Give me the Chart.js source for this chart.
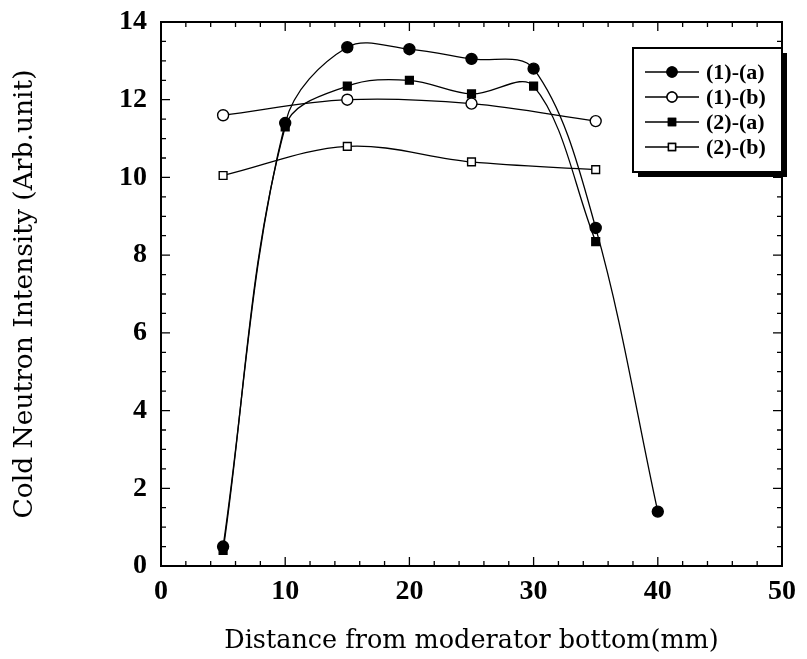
<!DOCTYPE html>
<html>
<head>
<meta charset="utf-8">
<script src="https://cdn.jsdelivr.net/npm/chart.js@4"></script>
<style>
  html, body { margin: 0; padding: 0; background: #fff; }
  #wrap { width: 807px; height: 659px; }
</style>
</head>
<body>
<div id="wrap"><canvas id="chart" width="807" height="659"></canvas></div>
<script>
// data
const distA = [5, 10, 15, 20, 25, 30, 35, 40];
const val1a = [0.5, 11.4, 13.35, 13.3, 13.05, 12.8, 8.7, 1.4];
const distB = [5, 15, 25, 35];
const val1b = [11.6, 12.0, 11.9, 11.45];
const dist2a = [5, 10, 15, 20, 25, 30, 35];
const val2a = [0.4, 11.3, 12.35, 12.5, 12.15, 12.35, 8.35];
const val2b = [10.05, 10.8, 10.4, 10.2];
const seriesNames = ['(1)-(a)', '(1)-(b)', '(2)-(a)', '(2)-(b)'];
const xMajor = [0, 10, 20, 30, 40, 50];
const yMajor = [0, 2, 4, 6, 8, 10, 12, 14];

const SERIF = '"DejaVu Serif", serif';
const TIMES = '"Liberation Serif", serif';
const pts = (xs, ys) => xs.map((x, i) => ({ x, y: ys[i] }));

function ds(label, data, style, filled) {
  return {
    label, data,
    borderColor: '#000', borderWidth: 1.3,
    pointStyle: style,
    pointRadius: 5.5,
    pointBackgroundColor: filled ? '#000' : '#fff',
    pointBorderColor: '#000', pointBorderWidth: 1.4,
    tension: 0.35, fill: false
  };
}

// frame, inward ticks on all four sides, and the shadowed legend box
const decor = {
  id: 'decor',
  afterDraw(chart) {
    const { ctx, chartArea: a, scales } = chart;
    const xs = scales.x, ys = scales.y;
    ctx.save();
    ctx.strokeStyle = '#000';
    ctx.lineWidth = 2;
    ctx.strokeRect(a.left, a.top, a.right - a.left, a.bottom - a.top);
    ctx.lineWidth = 1.3;
    ctx.beginPath();
    for (let v = 0; v <= 50; v += 2) {
      const px = xs.getPixelForValue(v);
      const len = v % 10 === 0 ? 9 : 5;
      ctx.moveTo(px, a.bottom); ctx.lineTo(px, a.bottom - len);
      ctx.moveTo(px, a.top); ctx.lineTo(px, a.top + len);
    }
    for (let v = 0; v <= 14; v += 0.5) {
      const py = ys.getPixelForValue(v);
      const len = v % 2 === 0 ? 9 : 5;
      ctx.moveTo(a.left, py); ctx.lineTo(a.left + len, py);
      ctx.moveTo(a.right, py); ctx.lineTo(a.right - len, py);
    }
    ctx.stroke();

    // legend
    const bx = 633, by = 48, bw = 149, bh = 124;
    ctx.fillStyle = '#000';
    ctx.fillRect(bx + 5, by + 5, bw, bh);
    ctx.fillStyle = '#fff';
    ctx.fillRect(bx, by, bw, bh);
    ctx.lineWidth = 2;
    ctx.strokeRect(bx, by, bw, bh);
    ctx.font = 'bold 22px ' + TIMES;
    ctx.textBaseline = 'middle';
    chart.data.datasets.forEach((d, i) => {
      const y = by + 24 + i * 25;
      ctx.strokeStyle = '#000';
      ctx.lineWidth = 1.4;
      ctx.beginPath();
      ctx.moveTo(bx + 12, y); ctx.lineTo(bx + 66, y);
      ctx.stroke();
      Chart.helpers.drawPoint(ctx, {
        pointStyle: d.pointStyle, radius: 5, borderWidth: 1.4
      }, bx + 39, y);
      ctx.fillStyle = d.pointBackgroundColor;
      ctx.fill();
      ctx.stroke();
      ctx.fillStyle = '#000';
      ctx.fillText(d.label, bx + 73, y + 1);
    });
    ctx.restore();
  }
};

new Chart(document.getElementById('chart'), {
  type: 'line',
  data: {
    datasets: [
      ds(seriesNames[0], pts(distA, val1a), 'circle', true),
      ds(seriesNames[1], pts(distB, val1b), 'circle', false),
      ds(seriesNames[2], pts(dist2a, val2a), 'rect', true),
      ds(seriesNames[3], pts(distB, val2b), 'rect', false)
    ]
  },
  options: {
    responsive: false,
    animation: false,
    layout: { padding: { top: 22, right: 25, left: 0, bottom: 0 } },
    plugins: { legend: { display: false }, tooltip: { enabled: false } },
    scales: {
      x: {
        type: 'linear', min: 0, max: 50,
        afterBuildTicks: s => { s.ticks = xMajor.map(v => ({ value: v })); },
        afterFit: s => { s.height = 93; s.paddingLeft = 0; s.paddingRight = 0; },
        grid: { display: false, drawTicks: false },
        border: { display: false },
        ticks: { color: '#000', padding: 9, font: { family: TIMES, size: 28, weight: 'bold' } },
        title: {
          display: true, text: 'Distance from moderator bottom(mm)', color: '#000',
          padding: { top: 0, bottom: 2 }, font: { family: SERIF, size: 25.5 }
        }
      },
      y: {
        min: 0, max: 14,
        afterBuildTicks: s => { s.ticks = yMajor.map(v => ({ value: v })); },
        afterFit: s => { s.width = 161; s.paddingTop = 0; s.paddingBottom = 0; },
        grid: { display: false, drawTicks: false },
        border: { display: false },
        ticks: { color: '#000', padding: 14, font: { family: TIMES, size: 28, weight: 'bold' } },
        title: {
          display: true, text: 'Cold Neutron Intensity (Arb.unit)', color: '#000',
          padding: { top: 9, bottom: 0 }, font: { family: SERIF, size: 26.5 }
        }
      }
    }
  },
  plugins: [decor]
});
</script>
</body>
</html>
